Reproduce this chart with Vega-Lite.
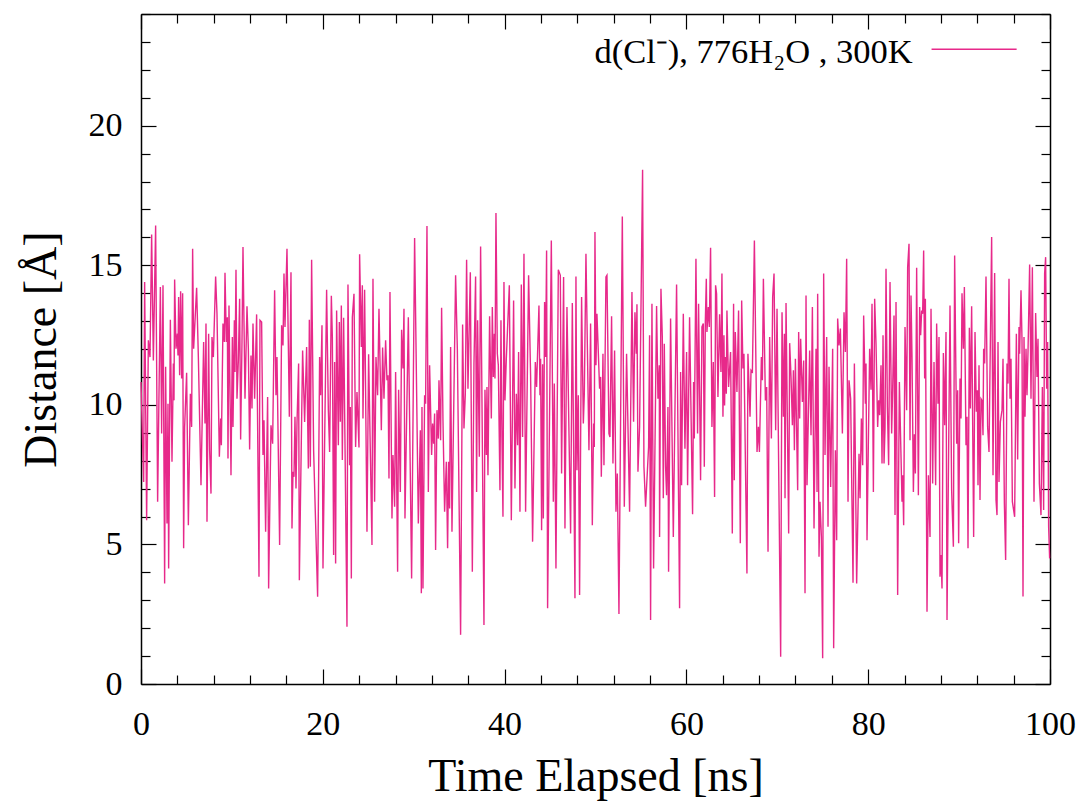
{
"$schema": "https://vega.github.io/schema/vega-lite/v6.json",
"width": 909, "height": 670,
"autosize": {"type": "none"},
"padding": {"left": 141, "top": 14, "right": 38, "bottom": 122},
"config": {"view": {"stroke": null}, "font": "Liberation Serif",
  "axis": {"grid": false, "domainColor": "black", "tickColor": "black", "labelColor": "black", "titleColor": "black",
    "labelFont": "Liberation Serif", "titleFont": "Liberation Serif", "labelFontSize": 34, "titleFontSize": 46,
    "titleFontWeight": "normal", "domainWidth": 1.5, "tickWidth": 1.2, "labelFlush": false}},
"resolve": {"axis": {"x": "independent", "y": "independent"}},
"layer": [
{"data": {"values": [
{"t":0,"d":10.82},{"t":0.29,"d":7.24},{"t":0.40,"d":14.40},{"t":0.62,"d":5.87},{"t":0.81,"d":12.31},{"t":0.99,"d":11.71},{"t":1.17,"d":16.10},{"t":1.36,"d":11.59},{"t":1.61,"d":16.42},{"t":1.83,"d":6.53},{"t":2.13,"d":14.22},{"t":2.27,"d":8.97},{"t":2.42,"d":14.28},{"t":2.60,"d":3.60},{"t":2.71,"d":11.36},{"t":2.86,"d":5.75},{"t":2.97,"d":10.04},{"t":3.04,"d":4.14},{"t":3.23,"d":13.05},{"t":3.41,"d":7.96},{"t":3.56,"d":11.48},{"t":3.63,"d":10.16},{"t":3.70,"d":14.49},{"t":3.85,"d":12.01},{"t":4.00,"d":12.55},{"t":4.07,"d":11.77},{"t":4.14,"d":13.86},{"t":4.25,"d":11.06},{"t":4.36,"d":14.07},{"t":4.47,"d":10.94},{"t":4.58,"d":14.00},{"t":4.69,"d":4.86},{"t":4.80,"d":9.21},{"t":5.02,"d":11.15},{"t":5.21,"d":5.69},{"t":5.43,"d":10.40},{"t":5.57,"d":9.21},{"t":5.68,"d":15.59},{"t":5.79,"d":12.01},{"t":6.12,"d":14.19},{"t":6.31,"d":11.71},{"t":6.60,"d":7.12},{"t":6.89,"d":12.25},{"t":7.04,"d":9.33},{"t":7.15,"d":12.91},{"t":7.26,"d":5.81},{"t":7.44,"d":12.55},{"t":7.55,"d":8.37},{"t":7.70,"d":6.82},{"t":7.81,"d":12.43},{"t":7.96,"d":11.71},{"t":8.21,"d":14.60},{"t":8.36,"d":13.26},{"t":8.62,"d":8.14},{"t":8.76,"d":9.51},{"t":8.84,"d":8.55},{"t":9.02,"d":12.91},{"t":9.17,"d":12.25},{"t":9.24,"d":14.73},{"t":9.39,"d":12.25},{"t":9.50,"d":13.14},{"t":9.57,"d":8.08},{"t":9.68,"d":13.56},{"t":9.90,"d":7.48},{"t":10.05,"d":12.43},{"t":10.12,"d":9.21},{"t":10.27,"d":13.03},{"t":10.34,"d":11.18},{"t":10.45,"d":14.84},{"t":10.56,"d":10.22},{"t":10.71,"d":11.59},{"t":10.85,"d":13.80},{"t":10.96,"d":8.76},{"t":11.11,"d":12.25},{"t":11.22,"d":15.65},{"t":11.44,"d":10.22},{"t":11.66,"d":13.53},{"t":11.81,"d":12.01},{"t":11.95,"d":8.40},{"t":12.10,"d":11.77},{"t":12.21,"d":9.87},{"t":12.32,"d":12.91},{"t":12.50,"d":10.22},{"t":12.72,"d":13.24},{"t":12.98,"d":3.84},{"t":13.09,"d":13.03},{"t":13.27,"d":12.97},{"t":13.42,"d":8.20},{"t":13.53,"d":9.45},{"t":13.71,"d":5.45},{"t":13.93,"d":10.28},{"t":14.04,"d":3.42},{"t":14.30,"d":9.27},{"t":14.48,"d":8.61},{"t":14.70,"d":14.10},{"t":14.85,"d":10.34},{"t":14.96,"d":11.71},{"t":15.25,"d":4.98},{"t":15.47,"d":12.85},{"t":15.62,"d":12.13},{"t":15.73,"d":14.70},{"t":15.84,"d":12.79},{"t":16.06,"d":15.59},{"t":16.32,"d":9.57},{"t":16.50,"d":14.75},{"t":16.61,"d":5.57},
{"t":16.72,"d":7.60},{"t":16.83,"d":7.42},{"t":16.94,"d":9.57},{"t":17.05,"d":7.00},{"t":17.16,"d":9.33},{"t":17.34,"d":11.48},{"t":17.42,"d":3.72},{"t":17.78,"d":11.95},{"t":18.00,"d":9.39},{"t":18.22,"d":12.07},{"t":18.41,"d":7.72},{"t":18.52,"d":13.05},{"t":18.63,"d":7.78},{"t":18.77,"d":15.20},{"t":18.99,"d":8.37},{"t":19.43,"d":3.13},{"t":19.65,"d":11.71},{"t":19.76,"d":10.34},{"t":19.91,"d":12.85},{"t":20.02,"d":4.14},{"t":20.42,"d":14.12},{"t":20.61,"d":9.81},{"t":20.75,"d":8.31},{"t":20.94,"d":13.91},{"t":21.05,"d":12.43},{"t":21.19,"d":4.62},{"t":21.30,"d":11.53},{"t":21.41,"d":4.32},{"t":21.52,"d":13.38},{"t":21.71,"d":8.55},{"t":21.82,"d":12.97},{"t":21.93,"d":9.39},{"t":22.04,"d":13.56},{"t":22.15,"d":8.02},{"t":22.29,"d":13.12},{"t":22.66,"d":2.05},{"t":22.77,"d":14.31},{"t":22.95,"d":7.84},{"t":23.03,"d":9.92},{"t":23.14,"d":3.78},{"t":23.25,"d":13.14},{"t":23.43,"d":13.98},{"t":23.61,"d":8.49},{"t":23.76,"d":10.46},{"t":23.98,"d":8.47},{"t":24.05,"d":15.39},{"t":24.24,"d":12.07},{"t":24.35,"d":14.28},{"t":24.42,"d":9.51},{"t":24.60,"d":14.12},{"t":24.86,"d":5.45},{"t":25.04,"d":11.81},{"t":25.41,"d":4.98},{"t":25.52,"d":14.52},{"t":25.70,"d":6.53},{"t":25.85,"d":11.71},{"t":26.03,"d":10.34},{"t":26.18,"d":13.44},{"t":26.44,"d":9.09},{"t":26.58,"d":12.05},{"t":26.73,"d":10.22},{"t":26.91,"d":12.31},{"t":27.06,"d":10.88},{"t":27.17,"d":11.06},{"t":27.28,"d":7.36},{"t":27.39,"d":14.04},{"t":27.61,"d":5.93},{"t":27.72,"d":8.20},{"t":27.90,"d":6.35},{"t":28.01,"d":11.18},{"t":28.23,"d":4.02},{"t":28.34,"d":10.54},{"t":28.53,"d":6.88},{"t":28.67,"d":12.69},{"t":28.82,"d":11.30},{"t":28.93,"d":13.44},{"t":29.04,"d":5.93},{"t":29.41,"d":13.14},{"t":29.77,"d":3.78},{"t":30.10,"d":15.98},{"t":30.51,"d":5.75},{"t":30.73,"d":9.09},{"t":30.84,"d":3.25},{"t":30.91,"d":9.92},{"t":31.02,"d":3.42},{"t":31.20,"d":10.34},{"t":31.31,"d":10.04},{"t":31.46,"d":16.41},{"t":31.61,"d":6.88},{"t":31.75,"d":11.42},{"t":31.97,"d":8.20},{"t":32.08,"d":9.33},{"t":32.19,"d":8.61},{"t":32.30,"d":9.69},{"t":32.41,"d":4.80},{"t":32.56,"d":9.81},{"t":32.71,"d":8.79},{"t":32.78,"d":10.88},{"t":32.96,"d":8.73},{"t":33.07,"d":13.48},{"t":33.22,"d":9.45},{"t":33.40,"d":6.17},
{"t":33.59,"d":7.96},{"t":33.73,"d":4.86},{"t":33.84,"d":7.96},{"t":33.95,"d":6.29},{"t":34.06,"d":12.07},{"t":34.21,"d":5.45},{"t":34.61,"d":14.64},{"t":34.80,"d":12.01},{"t":35.16,"d":1.76},{"t":35.38,"d":12.88},{"t":35.53,"d":9.15},{"t":35.68,"d":10.40},{"t":35.82,"d":15.20},{"t":35.97,"d":10.58},{"t":36.23,"d":14.75},{"t":36.45,"d":4.02},{"t":36.63,"d":11.48},{"t":36.81,"d":14.60},{"t":36.92,"d":6.88},{"t":37.03,"d":13.03},{"t":37.22,"d":8.14},{"t":37.36,"d":15.67},{"t":37.73,"d":2.11},{"t":37.84,"d":10.54},{"t":37.99,"d":8.20},{"t":38.06,"d":10.64},{"t":38.17,"d":7.48},{"t":38.35,"d":13.17},{"t":38.54,"d":9.51},{"t":38.65,"d":13.50},{"t":38.76,"d":11.00},{"t":38.87,"d":12.55},{"t":38.94,"d":10.94},{"t":39.05,"d":16.87},{"t":39.20,"d":11.83},{"t":39.31,"d":11.42},{"t":39.49,"d":6.94},{"t":39.60,"d":13.03},{"t":39.71,"d":8.79},{"t":39.82,"d":5.99},{"t":39.93,"d":14.40},{"t":40.04,"d":10.16},{"t":40.19,"d":11.65},{"t":40.52,"d":14.28},{"t":40.74,"d":5.87},{"t":40.99,"d":13.74},{"t":41.14,"d":7.00},{"t":41.29,"d":10.40},{"t":41.43,"d":8.55},{"t":41.54,"d":11.89},{"t":41.69,"d":6.17},{"t":41.84,"d":14.31},{"t":41.98,"d":8.85},{"t":42.13,"d":15.41},{"t":42.31,"d":6.17},{"t":42.64,"d":14.64},{"t":42.86,"d":11.06},{"t":43.08,"d":5.10},{"t":43.38,"d":11.53},{"t":43.52,"d":10.64},{"t":43.78,"d":13.56},{"t":43.89,"d":10.34},{"t":43.96,"d":11.65},{"t":44.07,"d":5.51},{"t":44.18,"d":11.45},{"t":44.26,"d":5.93},{"t":44.40,"d":13.68},{"t":44.51,"d":11.71},{"t":44.62,"d":15.53},{"t":44.73,"d":2.71},{"t":45.14,"d":15.89},{"t":45.36,"d":6.53},{"t":45.47,"d":10.76},{"t":45.65,"d":4.14},{"t":45.91,"d":14.84},{"t":46.13,"d":14.64},{"t":46.27,"d":7.54},{"t":46.49,"d":14.58},{"t":46.64,"d":5.57},{"t":46.86,"d":13.50},{"t":47.26,"d":5.39},{"t":47.45,"d":13.65},{"t":47.74,"d":3.07},{"t":47.85,"d":14.60},{"t":47.96,"d":7.66},{"t":48.11,"d":10.34},{"t":48.25,"d":3.19},{"t":48.47,"d":13.86},{"t":48.66,"d":9.33},{"t":48.77,"d":10.40},{"t":48.95,"d":15.41},{"t":49.28,"d":8.37},{"t":49.46,"d":12.91},{"t":49.65,"d":5.69},{"t":49.79,"d":9.33},{"t":49.87,"d":8.49},{"t":49.94,"d":16.19},{"t":50.05,"d":11.42},{"t":50.16,"d":13.26},
{"t":50.45,"d":10.58},{"t":50.56,"d":11.00},{"t":50.64,"d":7.42},{"t":50.82,"d":11.83},{"t":50.93,"d":7.84},{"t":51.15,"d":14.58},{"t":51.26,"d":14.64},{"t":51.48,"d":8.97},{"t":51.59,"d":8.85},{"t":51.77,"d":13.17},{"t":51.92,"d":7.90},{"t":52.10,"d":11.95},{"t":52.25,"d":6.17},{"t":52.40,"d":7.54},{"t":52.58,"d":2.51},{"t":52.95,"d":16.75},{"t":53.17,"d":6.35},{"t":53.42,"d":11.83},{"t":53.75,"d":6.17},{"t":54.01,"d":14.04},{"t":54.19,"d":9.39},{"t":54.34,"d":13.32},{"t":54.49,"d":11.83},{"t":54.56,"d":13.60},{"t":54.67,"d":7.60},{"t":54.85,"d":9.21},{"t":55.18,"d":18.42},{"t":55.33,"d":7.78},{"t":55.51,"d":6.35},{"t":55.84,"d":8.49},{"t":55.95,"d":12.49},{"t":56.06,"d":2.29},{"t":56.21,"d":13.62},{"t":56.39,"d":4.14},{"t":56.72,"d":13.54},{"t":56.87,"d":10.22},{"t":57.02,"d":11.42},{"t":57.05,"d":5.27},{"t":57.20,"d":14.16},{"t":57.35,"d":12.43},{"t":57.46,"d":6.65},{"t":57.57,"d":12.19},{"t":57.71,"d":7.78},{"t":57.82,"d":6.76},{"t":57.97,"d":9.92},{"t":58.04,"d":4.02},{"t":58.26,"d":13.09},{"t":58.56,"d":5.27},{"t":58.92,"d":14.31},{"t":59.25,"d":2.71},{"t":59.36,"d":11.18},{"t":59.47,"d":7.12},{"t":59.66,"d":13.26},{"t":59.84,"d":8.43},{"t":60.02,"d":11.89},{"t":60.13,"d":7.12},{"t":60.35,"d":13.14},{"t":60.68,"d":6.08},{"t":60.79,"d":10.82},{"t":60.87,"d":8.79},{"t":61.05,"d":15.23},{"t":61.23,"d":8.97},{"t":61.34,"d":13.62},{"t":61.56,"d":7.30},{"t":61.71,"d":12.79},{"t":61.86,"d":12.91},{"t":61.97,"d":7.78},{"t":62.08,"d":12.97},{"t":62.19,"d":14.52},{"t":62.26,"d":12.61},{"t":62.41,"d":13.50},{"t":62.52,"d":12.79},{"t":62.66,"d":15.63},{"t":62.81,"d":9.21},{"t":62.96,"d":11.53},{"t":63.10,"d":6.70},{"t":63.21,"d":14.28},{"t":63.32,"d":13.98},{"t":63.47,"d":10.28},{"t":63.65,"d":13.24},{"t":63.80,"d":11.18},{"t":63.91,"d":14.70},{"t":64.02,"d":9.57},{"t":64.13,"d":12.49},{"t":64.20,"d":9.98},{"t":64.28,"d":11.71},{"t":64.39,"d":10.40},{"t":64.46,"d":13.38},{"t":64.64,"d":10.64},{"t":64.86,"d":11.89},{"t":65.05,"d":5.39},{"t":65.19,"d":13.62},{"t":65.27,"d":7.30},{"t":65.38,"d":12.61},{"t":65.56,"d":10.46},{"t":65.74,"d":13.38},{"t":65.93,"d":5.04},{"t":66.08,"d":13.74},{"t":66.22,"d":11.30},{"t":66.33,"d":11.83},{"t":66.66,"d":3.96},{"t":66.77,"d":11.83},
{"t":67.00,"d":9.57},{"t":67.11,"d":11.24},{"t":67.26,"d":11.18},{"t":67.48,"d":15.89},{"t":67.77,"d":8.31},{"t":67.92,"d":9.21},{"t":68.03,"d":8.31},{"t":68.25,"d":11.71},{"t":68.36,"d":10.88},{"t":68.47,"d":14.52},{"t":68.69,"d":10.16},{"t":68.83,"d":10.64},{"t":68.98,"d":4.74},{"t":69.16,"d":12.43},{"t":69.35,"d":8.79},{"t":69.49,"d":13.86},{"t":69.64,"d":14.70},{"t":69.82,"d":9.09},{"t":69.97,"d":13.44},{"t":70.37,"d":0.98},{"t":70.52,"d":13.32},{"t":70.67,"d":9.57},{"t":70.78,"d":12.55},{"t":70.85,"d":6.65},{"t":70.96,"d":13.65},{"t":71.25,"d":5.39},{"t":71.36,"d":12.21},{"t":71.51,"d":11.00},{"t":71.66,"d":9.27},{"t":71.77,"d":11.24},{"t":71.88,"d":8.37},{"t":71.99,"d":11.65},{"t":72.24,"d":6.94},{"t":72.35,"d":12.61},{"t":72.46,"d":9.51},{"t":72.57,"d":12.37},{"t":72.76,"d":10.10},{"t":72.90,"d":11.59},{"t":73.05,"d":3.25},{"t":73.16,"d":13.92},{"t":73.27,"d":7.12},{"t":73.56,"d":11.95},{"t":73.71,"d":8.91},{"t":73.86,"d":13.50},{"t":74.04,"d":5.57},{"t":74.26,"d":12.01},{"t":74.37,"d":6.88},{"t":74.44,"d":13.98},{"t":74.59,"d":4.56},{"t":74.70,"d":6.53},{"t":74.85,"d":5.27},{"t":74.99,"d":0.92},{"t":75.10,"d":14.70},{"t":75.25,"d":8.20},{"t":75.43,"d":12.43},{"t":75.58,"d":5.63},{"t":75.69,"d":11.36},{"t":75.87,"d":7.06},{"t":76.09,"d":12.01},{"t":76.20,"d":1.28},{"t":76.39,"d":8.37},{"t":76.53,"d":5.15},{"t":76.64,"d":13.09},{"t":76.79,"d":12.13},{"t":76.94,"d":12.73},{"t":77.16,"d":8.97},{"t":77.34,"d":13.32},{"t":77.49,"d":11.89},{"t":77.63,"d":15.23},{"t":77.78,"d":6.53},{"t":77.89,"d":10.88},{"t":78.07,"d":10.22},{"t":78.33,"d":3.63},{"t":78.48,"d":11.48},{"t":78.73,"d":3.60},{"t":78.99,"d":8.25},{"t":79.10,"d":6.65},{"t":79.25,"d":9.51},{"t":79.39,"d":7.84},{"t":79.50,"d":13.20},{"t":79.69,"d":10.04},{"t":79.76,"d":11.48},{"t":79.87,"d":5.15},{"t":80.16,"d":12.01},{"t":80.31,"d":10.54},{"t":80.42,"d":13.62},{"t":80.57,"d":6.88},{"t":80.71,"d":13.80},{"t":80.86,"d":12.19},{"t":81.04,"d":9.21},{"t":81.15,"d":10.16},{"t":81.26,"d":9.63},{"t":81.41,"d":11.42},{"t":81.52,"d":7.90},{"t":81.63,"d":12.49},{"t":81.74,"d":7.90},{"t":81.85,"d":9.15},{"t":81.96,"d":14.87},{"t":82.11,"d":9.92},{"t":82.25,"d":7.84},{"t":82.40,"d":14.40},{"t":82.58,"d":8.97},{"t":82.69,"d":10.52},{"t":82.84,"d":13.20},{"t":82.95,"d":6.05},{"t":83.06,"d":13.68},{"t":83.24,"d":3.19},{"t":83.43,"d":10.82},{"t":83.72,"d":6.53},
{"t":83.79,"d":7.48},{"t":83.90,"d":5.69},{"t":84.05,"d":12.79},{"t":84.23,"d":9.81},{"t":84.34,"d":14.93},{"t":84.49,"d":15.77},{"t":84.60,"d":8.73},{"t":84.71,"d":13.92},{"t":84.82,"d":11.71},{"t":84.97,"d":6.88},{"t":85.08,"d":8.95},{"t":85.19,"d":7.54},{"t":85.33,"d":14.91},{"t":85.52,"d":6.76},{"t":85.66,"d":13.50},{"t":85.77,"d":12.49},{"t":85.88,"d":13.38},{"t":85.99,"d":13.26},{"t":86.10,"d":15.53},{"t":86.21,"d":10.94},{"t":86.29,"d":13.80},{"t":86.47,"d":2.59},{"t":86.62,"d":7.48},{"t":86.80,"d":5.27},{"t":86.91,"d":13.44},{"t":87.09,"d":7.18},{"t":87.24,"d":11.53},{"t":87.42,"d":7.12},{"t":87.53,"d":12.91},{"t":87.68,"d":10.04},{"t":87.79,"d":12.43},{"t":87.90,"d":3.84},{"t":88.01,"d":4.62},{"t":88.12,"d":3.42},{"t":88.27,"d":11.86},{"t":88.41,"d":9.27},{"t":88.56,"d":12.61},{"t":88.67,"d":2.29},{"t":89.00,"d":13.56},{"t":89.18,"d":6.94},{"t":89.37,"d":4.92},{"t":89.51,"d":15.35},{"t":89.73,"d":8.61},{"t":89.84,"d":10.52},{"t":89.95,"d":5.04},{"t":90.10,"d":10.94},{"t":90.21,"d":9.51},{"t":90.32,"d":14.00},{"t":90.47,"d":12.01},{"t":90.58,"d":14.22},{"t":90.76,"d":8.55},{"t":90.87,"d":9.57},{"t":90.98,"d":4.86},{"t":91.13,"d":12.76},{"t":91.24,"d":9.87},{"t":91.38,"d":13.53},{"t":91.60,"d":5.27},{"t":91.75,"d":12.61},{"t":91.90,"d":9.75},{"t":92.01,"d":10.52},{"t":92.08,"d":7.12},{"t":92.19,"d":11.42},{"t":92.30,"d":6.59},{"t":92.41,"d":10.22},{"t":92.52,"d":10.16},{"t":92.63,"d":8.91},{"t":92.70,"d":12.01},{"t":92.81,"d":11.48},{"t":92.96,"d":14.60},{"t":93.14,"d":9.21},{"t":93.29,"d":8.31},{"t":93.58,"d":16.01},{"t":93.73,"d":7.48},{"t":93.91,"d":14.72},{"t":94.06,"d":6.59},{"t":94.17,"d":6.05},{"t":94.28,"d":12.25},{"t":94.39,"d":7.24},{"t":94.54,"d":9.39},{"t":94.72,"d":9.81},{"t":94.83,"d":11.65},{"t":94.98,"d":6.47},{"t":95.12,"d":4.44},{"t":95.27,"d":11.48},{"t":95.38,"d":10.76},{"t":95.49,"d":14.52},{"t":95.60,"d":10.22},{"t":95.71,"d":11.65},{"t":95.86,"d":6.53},{"t":96.11,"d":5.99},{"t":96.30,"d":12.55},{"t":96.44,"d":8.04},{"t":96.59,"d":12.79},{"t":96.66,"d":11.83},{"t":96.81,"d":14.10},{"t":96.92,"d":12.31},{"t":97.03,"d":3.13},{"t":97.14,"d":12.43},{"t":97.25,"d":9.57},{"t":97.36,"d":12.01},{"t":97.47,"d":10.34},{"t":97.58,"d":11.89},{"t":97.76,"d":15.03},{"t":97.91,"d":10.22},{"t":98.06,"d":14.93},{"t":98.24,"d":6.53},{"t":98.42,"d":13.29},{"t":98.57,"d":11.00},{"t":98.68,"d":12.37},{"t":98.83,"d":7.18},{"t":99.01,"d":6.05},{"t":99.16,"d":10.64},{"t":99.30,"d":6.23},{"t":99.41,"d":14.70},{"t":99.52,"d":15.29},{"t":99.63,"d":10.58},{"t":99.74,"d":12.25},{"t":99.85,"d":5.63},{"t":99.96,"d":4.50}
]},
 "mark": {"type": "line", "color": "#e7298a", "strokeWidth": 1.4},
 "encoding": {
  "x": {"field": "t", "type": "quantitative", "scale": {"domain": [0, 100], "nice": false},
    "axis": {"orient": "bottom", "values": [0, 20, 40, 60, 80, 100], "tickSize": -15, "labelPadding": 38, "labelDx": 4, "title": "Time Elapsed [ns]", "titlePadding": 13}},
  "y": {"field": "d", "type": "quantitative", "scale": {"domain": [0, 24], "nice": false},
    "axis": {"orient": "left", "values": [0, 5, 10, 15, 20], "tickSize": -15, "labelPadding": 34, "title": "Distance [Å]", "titlePadding": 23}}
 }},
{"data": {"values": [{"t": 0, "d": 0}]}, "mark": {"type": "point", "opacity": 0},
 "encoding": {
  "x": {"field": "t", "type": "quantitative", "axis": {"orient": "bottom", "values": [4,8,12,16,24,28,32,36,44,48,52,56,64,68,72,76,84,88,92,96], "tickSize": -9, "labels": false, "domain": false, "title": null}},
  "y": {"field": "d", "type": "quantitative", "axis": {"orient": "left", "values": [1,2,3,4,6,7,8,9,11,12,13,14,16,17,18,19,21,22,23,24], "tickSize": -9, "labels": false, "domain": false, "title": null}}
 }},
{"data": {"values": [{"t": 0, "d": 0}]}, "mark": {"type": "point", "opacity": 0},
 "encoding": {
  "x": {"field": "t", "type": "quantitative", "axis": {"orient": "top", "values": [0, 20, 40, 60, 80, 100], "tickSize": -15, "labels": false, "domain": true, "title": null}},
  "y": {"field": "d", "type": "quantitative", "axis": {"orient": "right", "values": [0, 5, 10, 15, 20], "tickSize": -15, "labels": false, "domain": true, "title": null}}
 }},
{"data": {"values": [{"t": 0, "d": 0}]}, "mark": {"type": "point", "opacity": 0},
 "encoding": {
  "x": {"field": "t", "type": "quantitative", "axis": {"orient": "top", "values": [4,8,12,16,24,28,32,36,44,48,52,56,64,68,72,76,84,88,92,96], "tickSize": -9, "labels": false, "domain": false, "title": null}},
  "y": {"field": "d", "type": "quantitative", "axis": {"orient": "right", "values": [1,2,3,4,6,7,8,9,11,12,13,14,16,17,18,19,21,22,23,24], "tickSize": -9, "labels": false, "domain": false, "title": null}}
 }},
{"data": {"values": [{}]}, "mark": {"type": "text", "align": "right", "baseline": "alphabetic", "fontSize": 34.5, "font": "Liberation Serif", "color": "black"},
 "encoding": {
  "x": {"datum": 84.9, "type": "quantitative", "axis": null},
  "y": {"datum": 22.23, "type": "quantitative", "axis": null},
  "text": {"value": "d(Cl⁻), 776H₂O , 300K"}
 }},
{"data": {"values": [{}]}, "mark": {"type": "rule", "color": "#e7298a", "strokeWidth": 1.4},
 "encoding": {
  "x": {"datum": 86.97, "type": "quantitative", "axis": null},
  "x2": {"datum": 96.33},
  "y": {"datum": 22.74, "type": "quantitative", "axis": null}
 }}
]
}
